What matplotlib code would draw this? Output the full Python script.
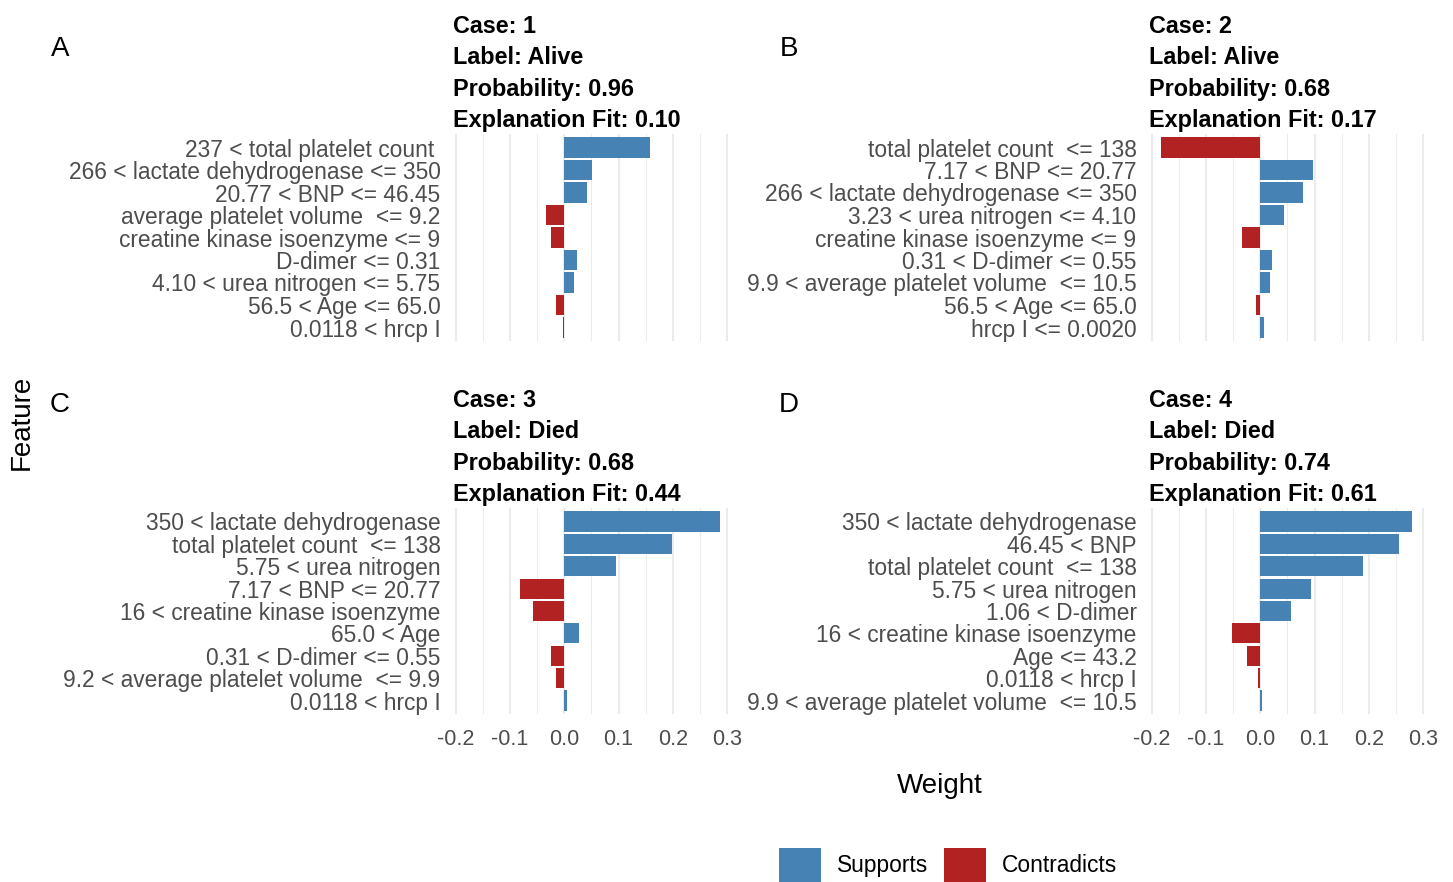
import numpy as np
import matplotlib
matplotlib.use("Agg")
import matplotlib.pyplot as plt
from matplotlib.patches import Patch

plt.rcParams['font.family'] = ['Liberation Sans', 'DejaVu Sans']

W, H = 1453, 882

# ---- data ----
case_ids = [1, 2, 3, 4]
case_labels = ["Alive", "Alive", "Died", "Died"]
case_probs = [0.96, 0.68, 0.68, 0.74]
case_fits = [0.10, 0.17, 0.44, 0.61]

features_1 = ["237 < total platelet count ", "266 < lactate dehydrogenase <= 350",
              "20.77 < BNP <= 46.45", "average platelet volume  <= 9.2",
              "creatine kinase isoenzyme <= 9", "D-dimer <= 0.31",
              "4.10 < urea nitrogen <= 5.75", "56.5 < Age <= 65.0", "0.0118 < hrcp I"]
weights_1 = [0.158, 0.051, 0.042, -0.034, -0.025, 0.023, 0.018, -0.015, -0.002]

features_2 = ["total platelet count  <= 138", "7.17 < BNP <= 20.77",
              "266 < lactate dehydrogenase <= 350", "3.23 < urea nitrogen <= 4.10",
              "creatine kinase isoenzyme <= 9", "0.31 < D-dimer <= 0.55",
              "9.9 < average platelet volume  <= 10.5", "56.5 < Age <= 65.0",
              "hrcp I <= 0.0020"]
weights_2 = [-0.182, 0.098, 0.078, 0.043, -0.034, 0.021, 0.017, -0.007, 0.006]

features_3 = ["350 < lactate dehydrogenase", "total platelet count  <= 138",
              "5.75 < urea nitrogen", "7.17 < BNP <= 20.77",
              "16 < creatine kinase isoenzyme", "65.0 < Age",
              "0.31 < D-dimer <= 0.55", "9.2 < average platelet volume  <= 9.9",
              "0.0118 < hrcp I"]
weights_3 = [0.286, 0.198, 0.095, -0.082, -0.058, 0.027, -0.025, -0.015, 0.005]

features_4 = ["350 < lactate dehydrogenase", "46.45 < BNP",
              "total platelet count  <= 138", "5.75 < urea nitrogen",
              "1.06 < D-dimer", "16 < creatine kinase isoenzyme", "Age <= 43.2",
              "0.0118 < hrcp I", "9.9 < average platelet volume  <= 10.5"]
weights_4 = [0.279, 0.255, 0.190, 0.094, 0.056, -0.053, -0.025, -0.004, 0.004]

features = [features_1, features_2, features_3, features_4]
weights = [weights_1, weights_2, weights_3, weights_4]
panel_letters = ["A", "B", "C", "D"]

SUPPORT = "#4682B4"
CONTRA = "#B22222"
GRID = "#EBEBEB"
TXT = "#4D4D4D"


def rect(x0, y0, x1, y1):
    return [x0 / W, 1 - y1 / H, (x1 - x0) / W, (y1 - y0) / H]


fig = plt.figure(figsize=(W / 100, H / 100), dpi=100)

boxes = [(453, 134, 732, 341), (1149, 134, 1428, 341),
         (453, 508, 732, 714), (1149, 508, 1428, 714)]
letter_pos = [(60, 49), (789, 49), (60, 405), (789, 405)]

for i in range(4):
    ax = fig.add_axes(rect(*boxes[i]))
    w = weights[i]
    y = np.arange(len(w))
    cols = [SUPPORT if v > 0 else CONTRA for v in w]
    ax.barh(y, w, height=0.9, color=cols, zorder=3)
    ax.set_ylim(len(w) - 0.4, -0.6)
    ax.set_xlim(-0.205, 0.309)
    for s in ax.spines.values():
        s.set_visible(False)
    for v in [-0.2, -0.1, 0.0, 0.1, 0.2, 0.3]:
        ax.axvline(v, color=GRID, lw=1.5, zorder=0)
    for v in [-0.15, -0.05, 0.05, 0.15, 0.25]:
        ax.axvline(v, color=GRID, lw=0.75, zorder=0)
    ax.set_yticks(y)
    ax.set_yticklabels(features[i], fontsize=16.4, color=TXT)
    ax.tick_params(axis='y', length=0, pad=9)
    ax.set_xticks([-0.2, -0.1, 0.0, 0.1, 0.2, 0.3])
    if i >= 2:
        ax.set_xticklabels(["-0.2", "-0.1", "0.0", "0.1", "0.2", "0.3"],
                           fontsize=15.5, color=TXT)
    else:
        ax.set_xticklabels([])
    ax.tick_params(axis='x', length=0, pad=11)
    title = "Case: %d\nLabel: %s\nProbability: %.2f\nExplanation Fit: %.2f" % (
        case_ids[i], case_labels[i], case_probs[i], case_fits[i])
    ax.text(0.0, 1.0 + 2.0 / (boxes[i][3] - boxes[i][1]), title,
            transform=ax.transAxes, ha='left', va='bottom',
            fontsize=16.8, fontweight='bold', linespacing=1.46)
    lx, ly = letter_pos[i]
    fig.text(lx / W, 1 - ly / H, panel_letters[i], fontsize=20,
             ha='center', va='center')

fig.text(940 / W, 1 - 786 / H, "Weight", fontsize=20, ha='center', va='center')
fig.text(22 / W, 1 - 422 / H, "Feature", fontsize=20, ha='center', va='center',
         rotation=90)

handles = [Patch(facecolor=SUPPORT, label="Supports"),
           Patch(facecolor=CONTRA, label="Contradicts")]
fig.legend(handles=handles, loc='center', bbox_to_anchor=(948 / W, 1 - 865 / H),
           ncol=2, frameon=False, fontsize=16.4, handlelength=1.85,
           handleheight=1.92, handletextpad=0.7, columnspacing=0.7, borderpad=0)

fig.savefig("out.png", dpi=100)
